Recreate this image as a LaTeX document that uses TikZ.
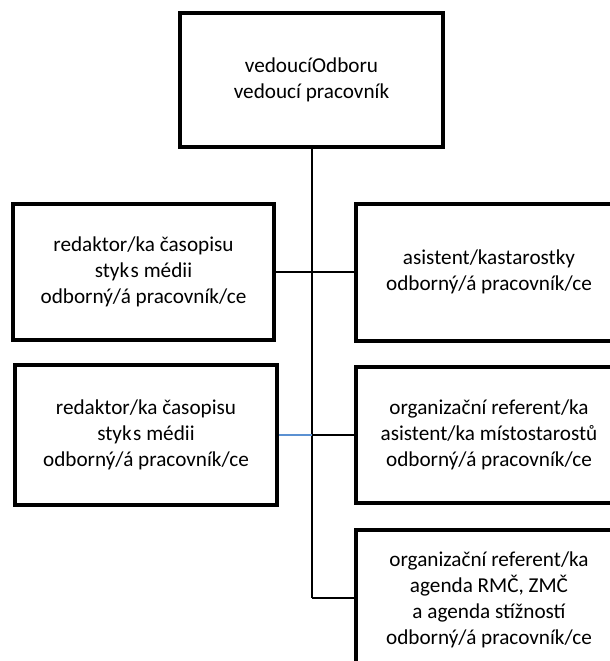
\documentclass[tikz,border=0pt]{standalone}
\usepackage{fontspec}
\setmainfont{Carlito}
\definecolor{linkblue}{RGB}{91,145,210}
\begin{document}
\begin{tikzpicture}[x=1pt,y=-1pt,
  box/.style={draw=black,line width=4pt,rectangle,align=center,inner sep=0pt,
    font=\fontsize{21.2}{25.8}\selectfont},
  trunk/.style={draw=black,line width=2pt},
  link/.style={draw=black,line width=1.4pt},
  bluelink/.style={draw=linkblue,line width=1.4pt}]
\useasboundingbox (0,0) rectangle (610,661);
\clip (0,0) rectangle (610,661);
\fill[white] (0,0) rectangle (610,661);
% boxes
\node[box,minimum width=263pt,minimum height=134pt] (top) at (311.5,80) {vedoucíOdboru\\vedoucí pracovník};
\node[box,minimum width=261pt,minimum height=136pt] (L1) at (143.5,272) {redaktor/ka časopisu\\styk\kern1.5pt s médii\\odborný/á pracovník/ce};
\node[box,minimum width=266pt,minimum height=137pt] (R1) at (489,272) {asistent/kastarostky\\odborný/á pracovník/ce};
\node[box,minimum width=262pt,minimum height=140pt] (L2) at (146,435) {redaktor/ka časopisu\\styk\kern1.5pt s médii\\odborný/á pracovník/ce};
\node[box,minimum width=266pt,minimum height=136pt] (R2) at (489,435) {organizační referent/ka\\asistent/ka místostarostů\\odborný/á pracovník/ce};
\node[box,minimum width=266pt,minimum height=140pt] (R3) at (489,600) {organizační referent/ka\\agenda RMČ, ZMČ\\a agenda stížností\\odborný/á pracovník/ce};
% junctions
\coordinate (j2) at (312,435);
\coordinate (tend) at (312,598);
% connectors
\draw[trunk] (top.south -| tend) -- (tend);
\draw[link] (L1.east) -- (R1.west);
\draw[bluelink] (L2.east) -- (j2);
\draw[link] (j2) -- (R2.west);
\draw[link] (tend) -- (R3.west |- tend);
\end{tikzpicture}
\end{document}
